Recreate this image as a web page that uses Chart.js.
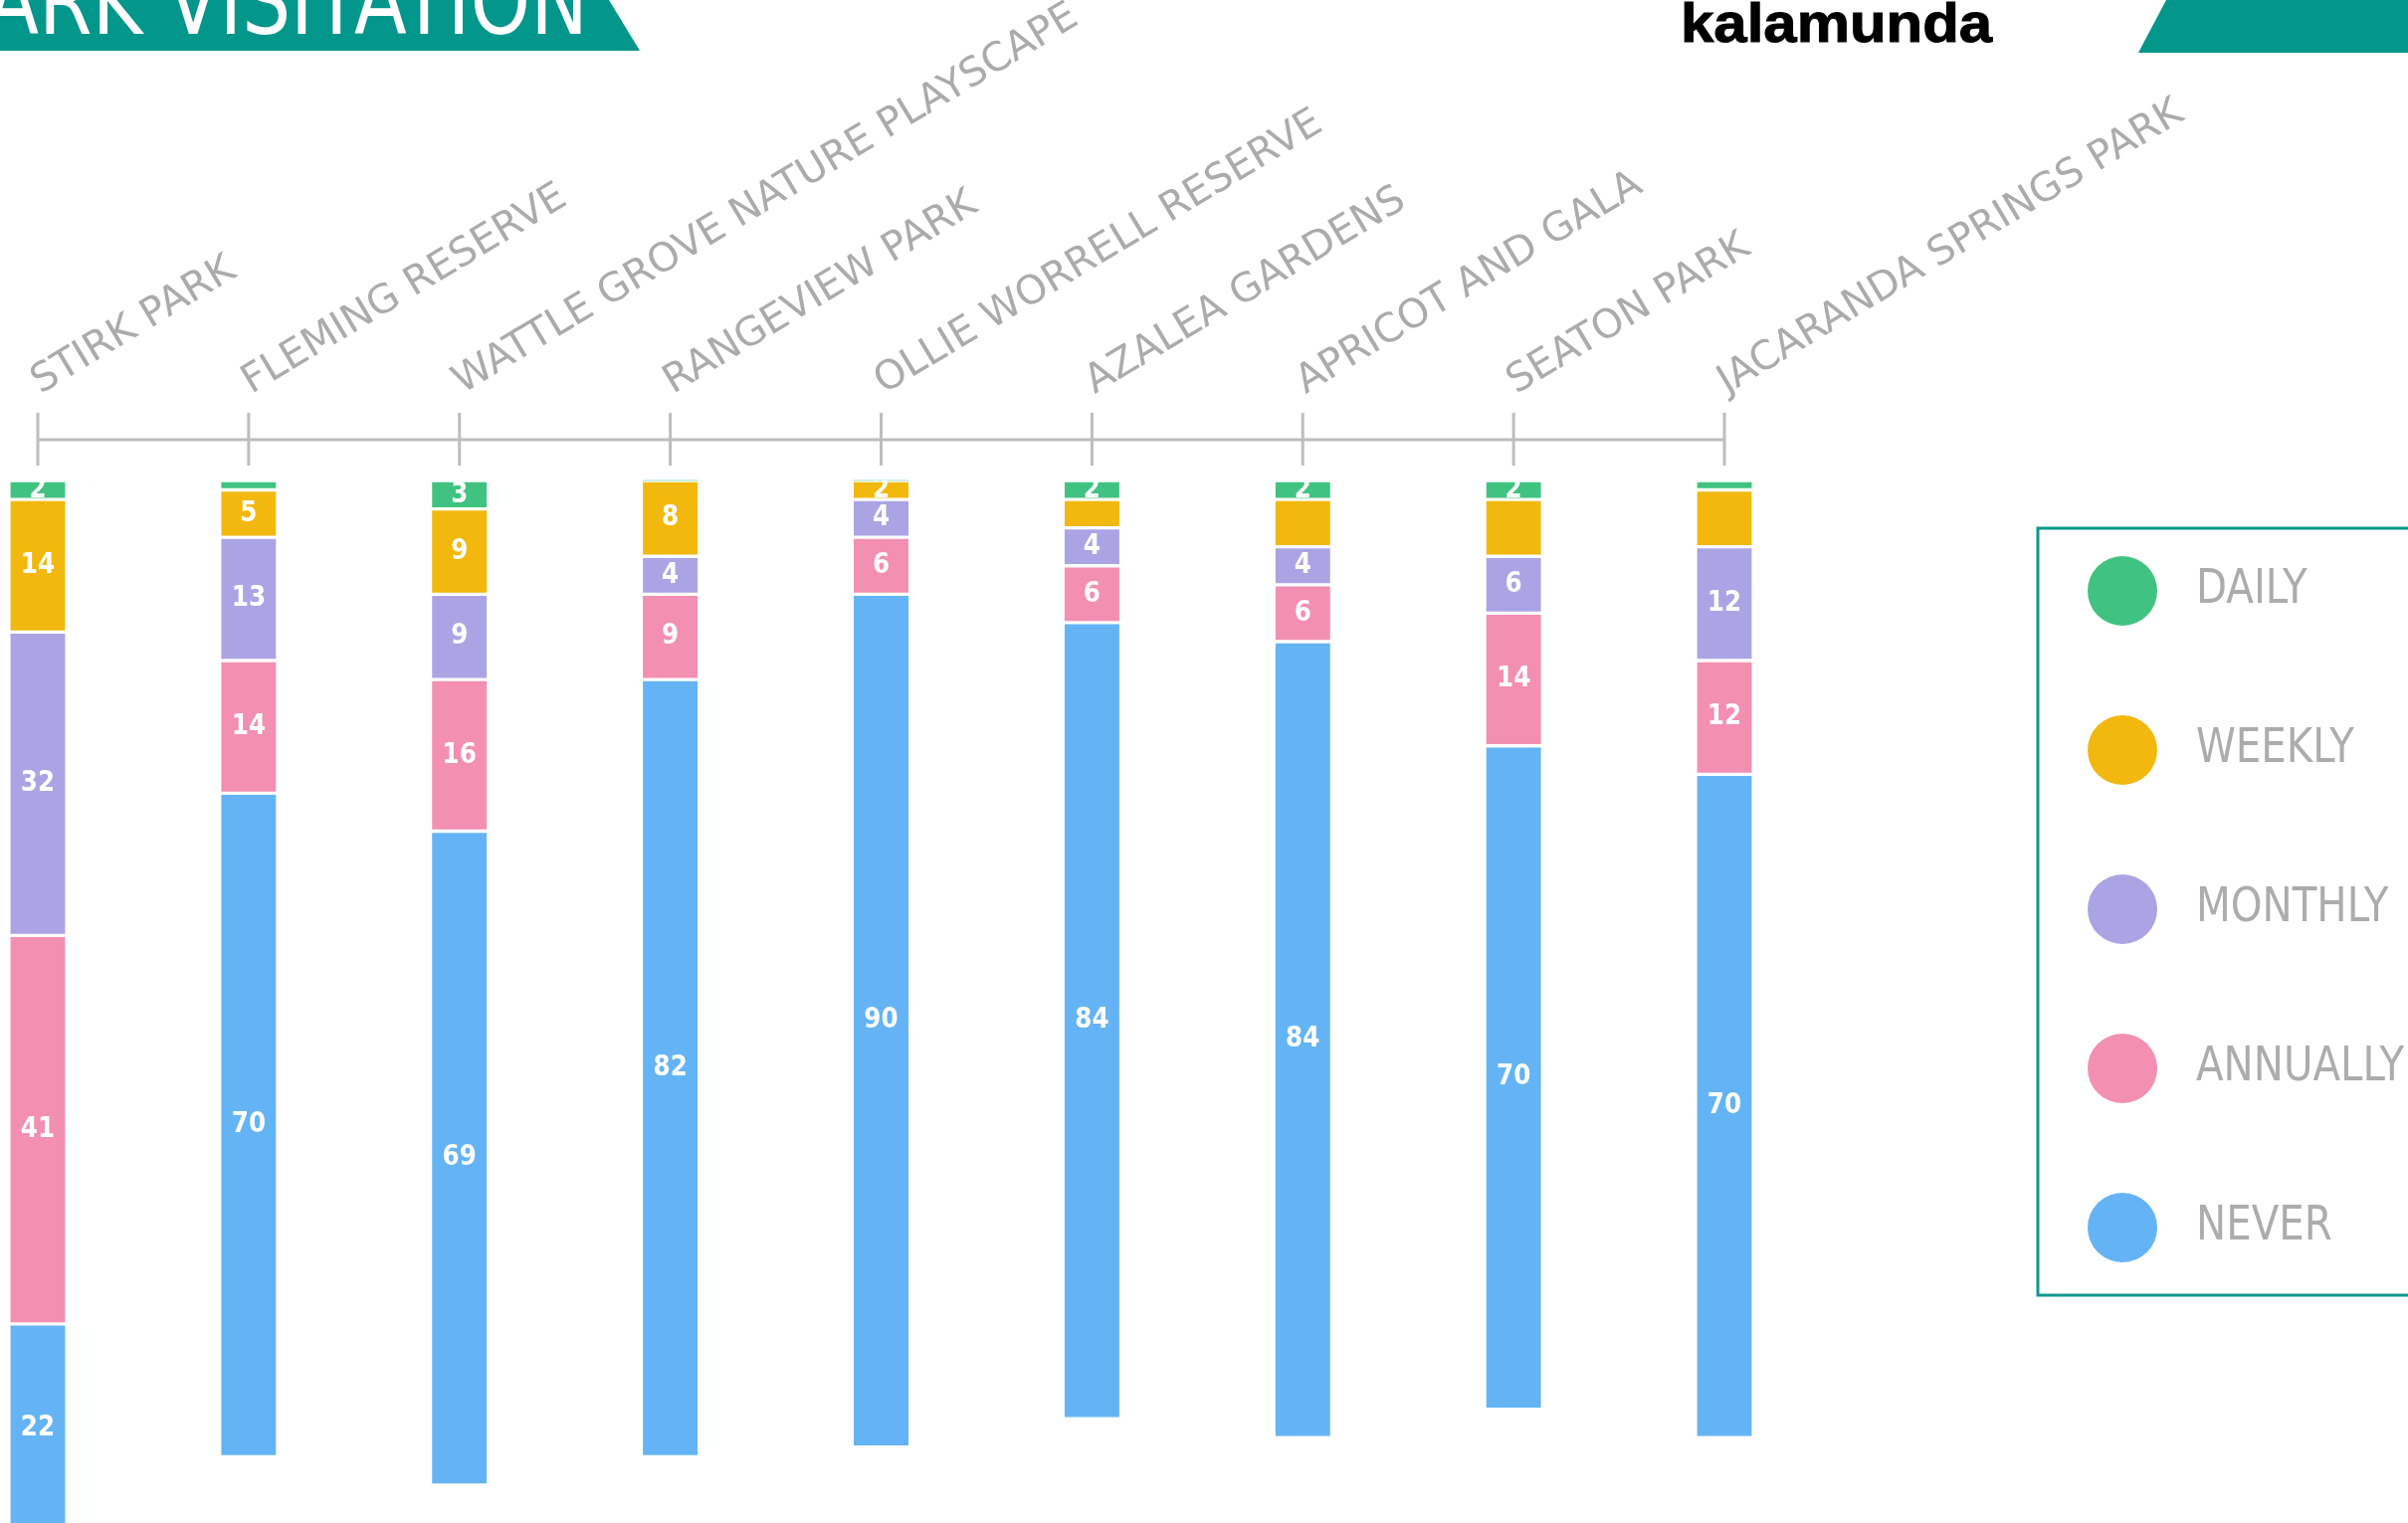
<!DOCTYPE html>
<html>
<head>
<meta charset="utf-8">
<script src="https://cdn.jsdelivr.net/npm/chart.js@4.4.1/dist/chart.umd.min.js"></script>
<style>
  html, body { margin: 0; padding: 0; background: #fff; overflow: hidden; }
  #wrap { position: relative; width: 2420px; height: 1531px; }
  #c { position: absolute; left: 0; top: 0; }
  .title {
    position: absolute; right: 1829px; top: -45.5px;
    font-family: "DejaVu Sans", Verdana, sans-serif; font-size: 94px; line-height: 94px;
    color: #fff; white-space: nowrap; transform: scaleX(0.82); transform-origin: right center;
  }
  .logo {
    position: absolute; left: 1689px; top: -3.6px;
    font-family: "Liberation Sans", Arial, sans-serif; font-weight: bold; font-size: 55px; line-height: 55px;
    color: #000; white-space: nowrap; transform: scaleX(1.09); transform-origin: left center;
    -webkit-text-stroke: 1px #000;
  }
</style>
</head>
<body>
<div id="wrap">
  <canvas id="c" width="2420" height="1531"></canvas>
  <svg style="position:absolute;left:0;top:0" width="2420" height="60">
    <polygon points="0,0 612,0 643,51 0,51" fill="#03968a"/>
    <polygon points="2177,0 2420,0 2420,53 2149,53" fill="#03968a"/>
  </svg>
  <div class="title">PARK VISITATION</div>
  <div class="logo">kalamunda</div>
</div>
<script>
// ---- data ----
const categories = ['STIRK PARK', 'FLEMING RESERVE', 'WATTLE GROVE NATURE PLAYSCAPE', 'RANGEVIEW PARK',
  'OLLIE WORRELL RESERVE', 'AZALEA GARDENS', 'APRICOT AND GALA', 'SEATON PARK', 'JACARANDA SPRINGS PARK'];
const seriesNames = ['DAILY', 'WEEKLY', 'MONTHLY', 'ANNUALLY', 'NEVER'];
const daily    = [2, 1, 3, 0, 0, 2, 2, 2, 1];
const weekly   = [14, 5, 9, 8, 2, 3, 5, 6, 6];
const monthly  = [32, 13, 9, 4, 4, 4, 4, 6, 12];
const annually = [41, 14, 16, 9, 6, 6, 6, 14, 12];
const never    = [22, 70, 69, 82, 90, 84, 84, 70, 70];
// which value labels appear in the picture
const dailyLabelShown  = [1, 0, 1, 0, 0, 1, 1, 1, 0];
const weeklyLabelShown = [1, 1, 1, 1, 1, 0, 0, 0, 0];
const allShown         = [1, 1, 1, 1, 1, 1, 1, 1, 1];

const colors = ['#40c380', '#f2b80e', '#aba4e4', '#f38fb0', '#64b4f5'];
const seriesData = [daily, weekly, monthly, annually, never];
const labelShown = [dailyLabelShown, weeklyLabelShown, allShown, allShown, allShown];

const datasets = seriesData.map((d, i) => ({
  label: seriesNames[i],
  data: d,
  labelShown: labelShown[i],
  backgroundColor: colors[i],
  borderColor: '#ffffff',
  borderWidth: { top: 2, bottom: 2, left: 0, right: 0 },
  borderSkipped: false,
  barThickness: 55,
  clip: false
}));

const axisLine = {
  id: 'axisLine',
  beforeDatasetsDraw(chart) {
    const xs = chart.scales.x, top = chart.chartArea.top, ctx = chart.ctx;
    const n = xs.ticks.length;
    ctx.save();
    ctx.strokeStyle = '#bdbdbd';
    ctx.lineWidth = 3;
    ctx.beginPath();
    ctx.moveTo(xs.getPixelForTick(0), top - 41);
    ctx.lineTo(xs.getPixelForTick(n - 1), top - 41);
    for (let i = 0; i < n; i++) {
      const px = xs.getPixelForTick(i);
      ctx.moveTo(px, top - 68);
      ctx.lineTo(px, top - 15);
    }
    ctx.stroke();
    ctx.restore();
  }
};

const segmentLabels = {
  id: 'segmentLabels',
  afterDatasetsDraw(chart) {
    const ctx = chart.ctx;
    chart.data.datasets.forEach((ds, di) => {
      const meta = chart.getDatasetMeta(di);
      meta.data.forEach((bar, i) => {
        const v = ds.data[i];
        if (!v || !ds.labelShown[i]) return;
        const p = bar.getProps(['x', 'y', 'base', 'width'], true);
        const t = Math.min(p.y, p.base), b = Math.max(p.y, p.base);
        ctx.save();
        ctx.beginPath();
        ctx.rect(p.x - p.width / 2, t, p.width, b - t);
        ctx.clip();
        ctx.translate(p.x, (t + b) / 2);
        ctx.scale(0.88, 1);
        ctx.font = 'bold 28px "DejaVu Sans"';
        ctx.fillStyle = '#ffffff';
        ctx.textAlign = 'center';
        ctx.textBaseline = 'middle';
        ctx.fillText(String(v), 0, 0);
        ctx.restore();
      });
    });
  }
};

const boxLegend = {
  id: 'boxLegend',
  afterDraw(chart) {
    const ctx = chart.ctx;
    ctx.save();
    ctx.strokeStyle = '#0a9a8c';
    ctx.lineWidth = 3;
    ctx.strokeRect(2048, 531, 420, 771);
    chart.data.datasets.forEach((ds, i) => {
      const cy = 594 + i * 160;
      ctx.fillStyle = ds.backgroundColor;
      ctx.beginPath();
      ctx.arc(2133, cy, 35, 0, Math.PI * 2);
      ctx.fill();
      ctx.save();
      ctx.translate(2207, cy + 12);
      ctx.scale(0.84, 1);
      ctx.font = '48px "DejaVu Sans"';
      ctx.fillStyle = '#acacac';
      ctx.textBaseline = 'alphabetic';
      ctx.fillText(ds.label, 0, 0);
      ctx.restore();
    });
    ctx.restore();
  }
};

new Chart(document.getElementById('c'), {
  type: 'bar',
  data: { labels: categories, datasets },
  options: {
    responsive: false,
    devicePixelRatio: 1,
    animation: false,
    layout: { padding: { left: 38, right: 687, top: 0, bottom: 0 } },
    plugins: { legend: { display: false }, tooltip: { enabled: false } },
    scales: {
      x: {
        type: 'category',
        position: 'top',
        stacked: true,
        offset: false,
        grid: { display: false, drawTicks: true, tickLength: 75 },
        border: { display: false },
        ticks: {
          autoSkip: false, minRotation: 31, maxRotation: 31, padding: 0, labelOffset: 22,
          color: '#ababab', font: { family: 'DejaVu Sans', size: 40 }
        },
        afterFit(scale) { scale.height = 483; }
      },
      y: { stacked: true, reverse: true, min: 0, max: 110, display: false }
    }
  },
  plugins: [axisLine, segmentLabels, boxLegend]
});
</script>
</body>
</html>
